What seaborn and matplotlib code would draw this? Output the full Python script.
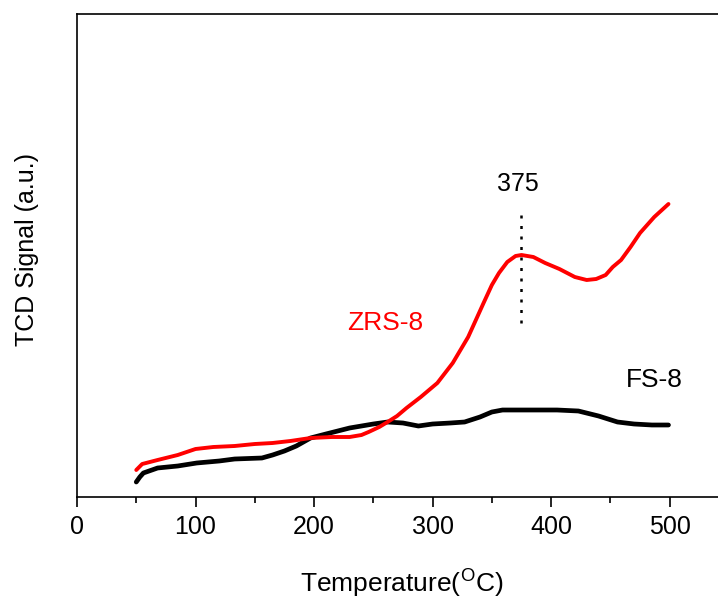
import matplotlib
matplotlib.use("Agg")
import matplotlib.pyplot as plt
import seaborn as sns
import pandas as pd
from matplotlib.ticker import MultipleLocator

# ---- data ----
zrs_temp = [50, 55, 68, 85, 100, 115, 133, 150, 165, 180, 197, 215, 230, 240, 246, 255,
            262, 270, 278, 290, 304, 317, 330, 343, 350, 356, 363, 370, 375, 385, 395,
            407, 420, 430, 438, 446, 452, 459, 467, 475, 487, 499]
zrs_signal = [0.27, 0.33, 0.37, 0.42, 0.48, 0.50, 0.51, 0.53, 0.54, 0.56, 0.59, 0.60, 0.60,
              0.62, 0.65, 0.70, 0.75, 0.81, 0.89, 1.00, 1.14, 1.34, 1.60, 1.94, 2.12, 2.24,
              2.35, 2.41, 2.42, 2.40, 2.34, 2.28, 2.20, 2.17, 2.18, 2.22, 2.30, 2.37, 2.50,
              2.64, 2.80, 2.93]
fs_temp = [50, 53, 56, 68, 85, 101, 120, 133, 156, 165, 175, 185, 197, 210, 230, 250, 262,
           275, 288, 300, 315, 327, 340, 350, 359, 375, 391, 405, 423, 440, 456, 470, 485, 499]
fs_signal = [0.15, 0.20, 0.24, 0.29, 0.31, 0.34, 0.36, 0.38, 0.39, 0.42, 0.46, 0.51, 0.59,
             0.63, 0.69, 0.73, 0.75, 0.74, 0.71, 0.73, 0.74, 0.75, 0.80, 0.85, 0.87, 0.87,
             0.87, 0.87, 0.86, 0.81, 0.75, 0.73, 0.72, 0.72]
series_names = ["ZRS-8", "FS-8"]
peak_temp = 375
peak_label = "375"
xticks = [0, 100, 200, 300, 400, 500]

sns.set_theme(style="ticks")
plt.rcParams['font.family'] = ['Liberation Sans', 'DejaVu Sans']
plt.rcParams['mathtext.fontset'] = 'custom'
plt.rcParams['mathtext.rm'] = 'Liberation Sans'
plt.rcParams['text.color'] = 'black'
plt.rcParams['axes.labelcolor'] = 'black'
plt.rcParams['xtick.color'] = 'black'
plt.rcParams['ytick.color'] = 'black'

df = pd.concat([
    pd.DataFrame({"T": zrs_temp, "S": zrs_signal, "sample": series_names[0]}),
    pd.DataFrame({"T": fs_temp, "S": fs_signal, "sample": series_names[1]}),
])

fig = plt.figure(figsize=(7.18, 5.98), dpi=100)
W, H = 718, 598
ax = fig.add_axes([77 / W, (H - 497) / H, (723 - 77) / W, (497 - 14) / H])

sns.lineplot(data=df[df["sample"] == "FS-8"], x="T", y="S", color="black",
             linewidth=3.4, ax=ax, legend=False)
sns.lineplot(data=df[df["sample"] == "ZRS-8"], x="T", y="S", color="#ff0000",
             linewidth=2.8, ax=ax, legend=False)

ax.set_xlim(0, 545)
ax.set_ylim(0, 4.83)
ax.set_yticks([])
ax.set_xticks(xticks)
ax.xaxis.set_minor_locator(MultipleLocator(50))
ax.tick_params(axis='x', which='major', direction='out', length=7, width=1.2,
               labelsize=18, pad=6, colors='black')
ax.tick_params(axis='x', which='minor', direction='out', length=4, width=1.2, colors='black')
for s in ax.spines.values():
    s.set_linewidth(1.2)
    s.set_color('black')

ax.set_xlabel(r"Temperature($^{\mathrm{O}}$C)", fontsize=19, color='black')
ax.set_ylabel("TCD Signal (a.u.)", fontsize=18, color='black')
ax.xaxis.set_label_coords((402 - 77) / 646, -(566 - 497) / 483)
ax.yaxis.set_label_coords((39 - 77) / 646, (497 - 250) / 483)

# peak marker
ax.plot([peak_temp, peak_temp], [(497 - 323) / 100, (497 - 213) / 100], color='black',
        linestyle=(0, (1.2, 3.0)), linewidth=1.8)
ax.text(peak_temp - 3, (497 - 184) / 100, peak_label, fontsize=18, ha='center', va='center')
ax.text(260, (497 - 323) / 100, series_names[0], color='#ff0000', fontsize=19,
        ha='center', va='center')
ax.text(487, (497 - 380) / 100, series_names[1], color='black', fontsize=19,
        ha='center', va='center')

fig.savefig("out.png", dpi=100)
